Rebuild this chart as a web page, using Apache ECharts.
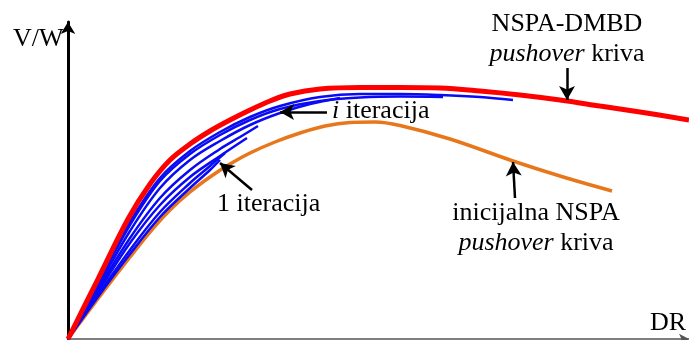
<!DOCTYPE html>
<html>
<head>
<meta charset="utf-8">
<script src="https://cdn.jsdelivr.net/npm/echarts@6/dist/echarts.min.js"></script>
<style>html,body{margin:0;padding:0;background:#fff;}#c{width:689px;height:340px;}</style>
</head>
<body>
<div id="c"></div>
<script>
// Data (x = drift ratio units, y = base shear units, arbitrary scale)
var redX = [0,30,60,82,102,122,142,162,182,202,222,252,292,332,372,412,452,492,532,572,621];
var redY = [0,60,120,155,179,195,208,219,229,238,245,250,251.5,251.5,251,248,244,239,233,227,219];
var orangeX = [0,32,62,82,102,122,142,162,182,207,232,257,282,307,332,382,445,492,544];
var orangeY = [0,43,82,107,129,147,162,175,186,197,206,213,216.5,217,213.5,200,178,163,148];
var b1X = [0,32,62,92,122,152,182,212,252,292,332,372,412,445];
var b1Y = [0,61,117,161,188,207,222,233,242,245,245,244,242,239];
var b2X = [0,32,62,92,122,152,182,212,252,292,332,375];
var b2Y = [0,59,114,158,185,204,219,230,238,241.5,242.5,242];
var b3X = [0,32,62,92,122,152,182,212,242,272];
var b3Y = [0,56,108,151,179,198,214,226,235,241];
var b4X = [0,32,62,92,122,152,172,190];
var b4Y = [0,53,101,141,169,190,202,213];
var b5X = [0,32,62,92,122,152,179];
var b5Y = [0,50,96,134,162,183,201];
var b6X = [0,32,62,92,122,142,157];
var b6Y = [0,47,89,127,156,173,186];
var b7X = [0,32,62,92,122,142,152];
var b7Y = [0,45,85,122,151,169,179];
var blueX = [b1X,b2X,b3X,b4X,b5X,b6X,b7X];
var blueY = [b1Y,b2Y,b3Y,b4Y,b5Y,b6Y,b7Y];

// Annotation arrows (from, to) in data coordinates
var arrows = [
  [[499,271],[499,239]],
  [[259,227],[212,227]],
  [[184,149],[152,176]],
  [[447,141],[445,177]]
];
// Annotation texts: [x, y, align, text]
var labels = [
  [499,315,'center','NSPA-DMBD'],
  [499,285,'center','{i|pushover} kriva'],
  [264,228,'left','{i|i} iteracija'],
  [149,135,'left','1 iteracija'],
  [468,126,'center','inicijalna NSPA'],
  [468,96,'center','{i|pushover} kriva'],
  [-55,300,'left','V/W'],
  [582,16,'left','DR']
];
var xMax = 621, yMax = 317;

function pairs(xs, ys){ return xs.map(function(v,i){ return [v, ys[i]]; }); }

var series = [];
series.push({type:'line', data:pairs(orangeX,orangeY), smooth:0.35, showSymbol:false,
  lineStyle:{color:'#e8761b', width:3.5}, z:2});
for (var k=0;k<blueX.length;k++){
  series.push({type:'line', data:pairs(blueX[k],blueY[k]), smooth:0.35, showSymbol:false,
    lineStyle:{color:'#0a0af5', width:2.5}, z:3});
}
series.push({type:'line', data:pairs(redX,redY), smooth:0.35, showSymbol:false,
  lineStyle:{color:'#ff0000', width:5}, z:4});
series.push({type:'line', data:[], z:5,
  markLine:{silent:true, animation:false, symbol:['none','arrow'], symbolSize:[12,14],
    label:{show:false}, lineStyle:{color:'#000', width:2.5, type:'solid'},
    emphasis:{disabled:true},
    data: arrows.map(function(a){ return [{coord:a[0]},{coord:a[1]}]; })}
});

var chart = echarts.init(document.getElementById('c'));
chart.setOption({
  animation:false,
  grid:{left:68, right:0, top:22, bottom:1, containLabel:false},
  xAxis:{type:'value', min:0, max:xMax, axisTick:{show:false}, axisLabel:{show:false}, splitLine:{show:false},
    axisLine:{show:true, onZero:false, symbol:['none','arrow'], symbolSize:[8,10], lineStyle:{color:'#555', width:1.5}}},
  yAxis:{type:'value', min:0, max:yMax, axisTick:{show:false}, axisLabel:{show:false}, splitLine:{show:false},
    axisLine:{show:true, onZero:false, symbol:['none','arrow'], symbolSize:[11,12], lineStyle:{color:'#000', width:3}}},
  series:series
});

var g = labels.map(function(l){
  var p = chart.convertToPixel({gridIndex:0}, [l[0], l[1]]);
  return {type:'text', x:p[0], y:p[1], silent:true, z:10,
    style:{text:l[3], font:'26px "Liberation Serif"', fill:'#000', textAlign:l[2], textVerticalAlign:'middle',
      rich:{i:{fontStyle:'italic', fontFamily:'Liberation Serif', fontSize:26}}}};
});
chart.setOption({graphic:g});
</script>
</body>
</html>
